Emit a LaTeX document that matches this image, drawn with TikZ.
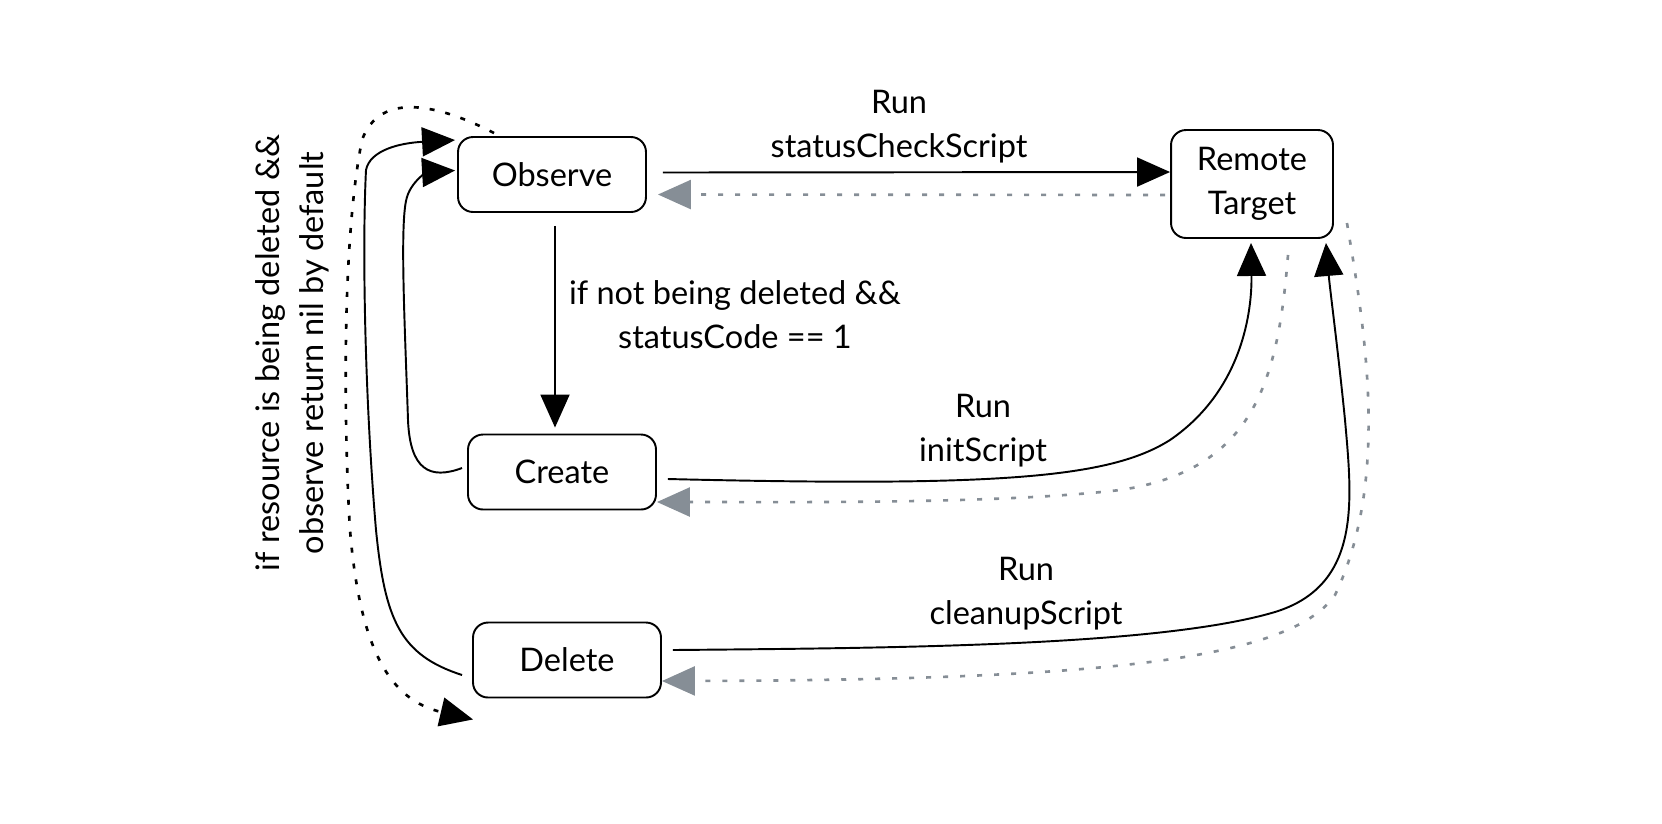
\documentclass[tikz,border=0pt]{standalone}
\usepackage{fontspec}
\setmainfont{Lato}
\usetikzlibrary{arrows.meta,calc}
\definecolor{backgray}{HTML}{868E96}

\begin{document}
\begin{tikzpicture}[x=0.02cm, y=-0.02cm,
    box/.style={draw, line width=1.1pt, rounded corners=0.3cm, align=center, minimum width=3.76cm, minimum height=1.5cm, font=\fontsize{18.5}{25}\selectfont},
    lbl/.style={align=center, font=\fontsize{18.5}{25}\selectfont},
    fwd/.style={line width=1.1pt, -{Triangle[length=0.66cm, width=0.58cm]}},
    back/.style={line width=1.5pt, backgray, dash pattern=on 0.1cm off 0.24cm, -{Triangle[length=0.66cm, width=0.58cm]}},
    loop/.style={line width=1.5pt, dash pattern=on 0.1cm off 0.22cm, -{Triangle[length=0.66cm, width=0.58cm]}}]
    \useasboundingbox (0,0) rectangle (1662,823);

    % States
    \node[box] (obs) at (552,174.5) {Observe};
    \node[box] (create) at (562,472) {Create};
    \node[box] (delete) at (567,660) {Delete};
    \node[box, minimum width=3.24cm, minimum height=2.16cm] (remote) at (1252,184) {Remote\\Target};

    % Observe <-> Remote
    \draw[fwd] ($(obs.east)+(16,-2)$) -- ($(remote.west)+(0,-12)$);
    \draw[back] ($(remote.west)+(-5,11)$) -- ($(obs.east)+(11,20)$);
    \node[lbl] (lcheck) at (899,127) {Run\\statusCheckScript};

    % Observe -> Create
    \draw[fwd] ($(obs.south)+(3,13)$) -- ($(create.north)+(-7,-6)$);
    \node[lbl] (lcond) at (735,315) {if not being deleted \&\&\\statusCode == 1};

    % Create <-> Remote
    \draw[fwd] ($(create.east)+(11,7)$) .. controls (1000,487) and (1110,478) .. (1170,440)
        .. controls (1243,390) and (1252,310) .. ($(remote.south)+(-1,4)$);
    \draw[back] ($(remote.south)+(36,16)$) .. controls (1278,380) and (1255,470) .. (1120,490)
        .. controls (1000,504) and (800,502) .. ($(create.east)+(0,30)$);
    \node[lbl] (linit) at (983,431) {Run\\initScript};

    % Delete <-> Remote
    \draw[fwd] ($(delete.east)+(11,-10)$) .. controls (900,648) and (1160,646) .. (1275,612)
        .. controls (1362,585) and (1352,500) .. (1345,420)
        .. controls (1338,350) and (1330,290) .. ($(remote.south east)+(-8,4)$);
    \draw[back] ($(remote.east)+(13,39)$) .. controls (1365,330) and (1390,480) .. (1335,595)
        .. controls (1290,660) and (1100,680) .. ($(delete.east)+(0,21)$);
    \node[lbl] (lclean) at (1026,594) {Run\\cleanupScript};

    % Back to Observe
    \draw[fwd] ($(create.west)+(-5,-4)$) .. controls (430,480) and (410,470) .. (408,420)
        .. controls (405,330) and (400,230) .. (406,201)
        .. controls (410,180) and (430,172) .. ($(obs.west)+(-2,-4)$);
    \draw[fwd] ($(delete.west)+(-10,15)$) .. controls (400,655) and (385,620) .. (376,530)
        .. controls (365,400) and (362,250) .. (366,170)
        .. controls (370,150) and (400,143) .. ($(obs.north west)+(-2,4)$);
    \draw[loop] ($(obs.north west)+(37,-3)$) .. controls (440,105) and (380,90) .. (362,140)
        .. controls (340,250) and (345,450) .. (350,530)
        .. controls (360,650) and (390,700) .. ($(delete.south west)+(1,21)$);
    \node[lbl, rotate=90] (ldel) at (292,353) {if resource is being deleted \&\&\\observe return nil by default};
\end{tikzpicture}
\end{document}
